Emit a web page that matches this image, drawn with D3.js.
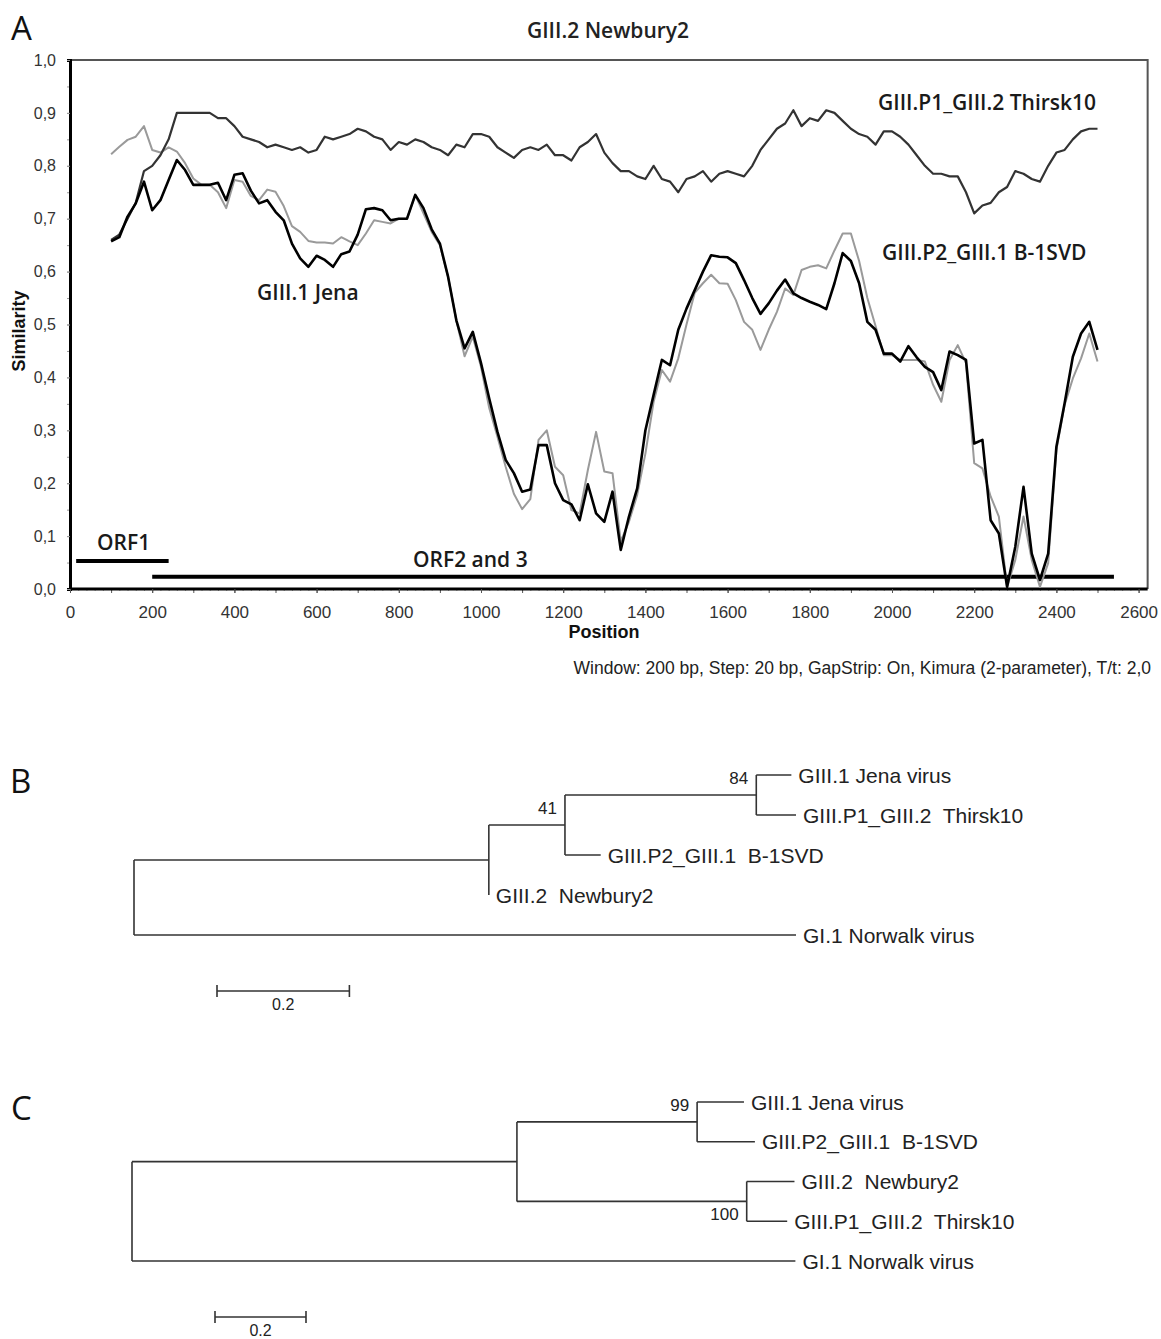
<!DOCTYPE html>
<html>
<head>
<meta charset="utf-8">
<script src="https://cdn.jsdelivr.net/npm/d3@7"></script>
<style>
  body { margin: 0; background: #fff; }
</style>
</head>
<body>
<div id="chart"></div>
<script>
// ---- Datos del panel A (Simplot, ventana 200 bp, paso 20 bp) ----
const positions = d3.range(100, 2501, 20); // centros de ventana, paso de 20 bp

const thirsk10 = [
  0.66, 0.67, 0.70, 0.73, 0.79, 0.80, 0.82, 0.85, 0.90, 0.90,
  0.90, 0.90, 0.90, 0.89, 0.89, 0.875, 0.855, 0.85, 0.845, 0.835,
  0.84, 0.835, 0.83, 0.835, 0.825, 0.83, 0.855, 0.85, 0.855, 0.86,
  0.87, 0.865, 0.855, 0.85, 0.83, 0.845, 0.84, 0.85, 0.845, 0.835,
  0.83, 0.82, 0.84, 0.835, 0.86, 0.86, 0.855, 0.835, 0.825, 0.815,
  0.83, 0.835, 0.83, 0.84, 0.82, 0.82, 0.81, 0.835, 0.845, 0.86,
  0.825, 0.805, 0.79, 0.79, 0.78, 0.775, 0.80, 0.775, 0.77, 0.75,
  0.775, 0.78, 0.79, 0.77, 0.785, 0.79, 0.785, 0.78, 0.80, 0.83,
  0.85, 0.87, 0.88, 0.905, 0.875, 0.89, 0.885, 0.905, 0.90, 0.885,
  0.87, 0.86, 0.855, 0.84, 0.865, 0.865, 0.855, 0.84, 0.82, 0.80,
  0.785, 0.785, 0.78, 0.78, 0.75, 0.71, 0.725, 0.73, 0.75, 0.76,
  0.79, 0.785, 0.775, 0.77, 0.80, 0.825, 0.83, 0.85, 0.865, 0.87,
  0.87
];

const jena = [
  0.657, 0.665, 0.704, 0.729, 0.77, 0.716, 0.735, 0.773, 0.811, 0.792,
  0.764, 0.764, 0.764, 0.768, 0.735, 0.783, 0.786, 0.753, 0.729, 0.735,
  0.713, 0.697, 0.653, 0.625, 0.609, 0.63, 0.622, 0.609, 0.633, 0.638,
  0.67, 0.718, 0.72, 0.716, 0.697, 0.70, 0.70, 0.745, 0.72, 0.68,
  0.653, 0.59, 0.508, 0.455, 0.486, 0.427, 0.36, 0.297, 0.244, 0.219,
  0.184, 0.188, 0.272, 0.272, 0.20, 0.168, 0.16, 0.13, 0.198, 0.143,
  0.127, 0.184, 0.074, 0.137, 0.19, 0.30, 0.367, 0.433, 0.423, 0.49,
  0.53, 0.565, 0.60, 0.631, 0.628, 0.627, 0.616, 0.584, 0.55, 0.52,
  0.54, 0.564, 0.585, 0.559, 0.55, 0.543, 0.537, 0.529, 0.578, 0.635,
  0.62, 0.578, 0.505, 0.49, 0.445, 0.445, 0.43, 0.459, 0.438, 0.42,
  0.41, 0.376, 0.449, 0.442, 0.433, 0.275, 0.282, 0.13, 0.105, 0.004,
  0.08, 0.193, 0.067, 0.017, 0.067, 0.269, 0.351, 0.439, 0.483, 0.505,
  0.452
];

const b1svd = [
  0.822, 0.836, 0.849, 0.855, 0.875, 0.83, 0.825, 0.835, 0.827, 0.805,
  0.776, 0.764, 0.764, 0.75, 0.72, 0.773, 0.77, 0.743, 0.735, 0.755,
  0.751, 0.724, 0.686, 0.675, 0.658, 0.655, 0.655, 0.653, 0.665, 0.657,
  0.65, 0.672, 0.697, 0.694, 0.691, 0.70, 0.70, 0.745, 0.71, 0.675,
  0.65, 0.59, 0.508, 0.44, 0.477, 0.42, 0.342, 0.288, 0.231, 0.18,
  0.151, 0.17, 0.282, 0.30, 0.231, 0.215, 0.149, 0.143, 0.225, 0.297,
  0.222, 0.219, 0.09, 0.127, 0.178, 0.256, 0.354, 0.414, 0.392, 0.436,
  0.50, 0.56, 0.578, 0.594, 0.578, 0.577, 0.546, 0.505, 0.49, 0.452,
  0.49, 0.524, 0.568, 0.556, 0.603, 0.609, 0.612, 0.606, 0.64, 0.672,
  0.672, 0.62, 0.55, 0.497, 0.442, 0.442, 0.433, 0.433, 0.433, 0.43,
  0.386, 0.354, 0.433, 0.461, 0.427, 0.238, 0.228, 0.175, 0.137, 0.004,
  0.055, 0.137, 0.055, 0.004, 0.049, 0.263, 0.348, 0.398, 0.436, 0.483,
  0.43
];

// Marcos de lectura (inicio, fin en bp; nivel en el eje de similitud)
const orfNames = ["ORF1", "ORF2 and 3"];
const orfStart = [15, 200];
const orfEnd = [240, 2540];
const orfLevel = [0.053, 0.023];

const yTicks = [0, 0.1, 0.2, 0.3, 0.4, 0.5, 0.6, 0.7, 0.8, 0.9, 1.0];
const xTicks = [0, 200, 400, 600, 800, 1000, 1200, 1400, 1600, 1800, 2000, 2200, 2400, 2600];

// ---- Datos de los árboles (longitudes de rama y soporte bootstrap) ----
const treeB = {
  children: [
    { len: 0.536, children: [
      { len: 0.115, support: 41, children: [
        { len: 0.289, support: 84, children: [
          { name: "GIII.1 Jena virus", len: 0.053 },
          { name: "GIII.P1_GIII.2  Thirsk10", len: 0.06 }
        ]},
        { name: "GIII.P2_GIII.1  B-1SVD", len: 0.054 }
      ]},
      { name: "GIII.2  Newbury2", len: 0 }
    ]},
    { name: "GI.1 Norwalk virus", len: 1.0 }
  ]
};

const treeC = {
  children: [
    { len: 0.846, children: [
      { len: 0.396, support: 99, children: [
        { name: "GIII.1 Jena virus", len: 0.103 },
        { name: "GIII.P2_GIII.1  B-1SVD", len: 0.127 }
      ]},
      { len: 0.505, support: 100, children: [
        { name: "GIII.2  Newbury2", len: 0.105 },
        { name: "GIII.P1_GIII.2  Thirsk10", len: 0.089 }
      ]}
    ]},
    { name: "GI.1 Norwalk virus", len: 1.458 }
  ]
};

const scaleBarValue = 0.2;

// ---- SVG ----
const width = 1161, height = 1339;
const labelFont = "'Open Sans', sans-serif";
const axisFont = "'Liberation Sans', Arial, sans-serif";

const svg = d3.select("#chart").append("svg")
  .attr("width", width)
  .attr("height", height);

svg.append("rect").attr("width", width).attr("height", height).attr("fill", "#fff");

// =================== Panel A ===================
const xMax = 2622;
const x = d3.scaleLinear().domain([0, xMax]).range([70, 70 + 0.411 * xMax]);
const y = d3.scaleLinear().domain([0, 1]).range([589, 60]);

const gA = svg.append("g");

gA.append("text").attr("x", 11).attr("y", 40)
  .attr("font-family", labelFont).attr("font-size", 33).attr("fill", "#111")
  .text("A");

gA.append("text").attr("x", 608).attr("y", 38).attr("text-anchor", "middle")
  .attr("font-family", labelFont).attr("font-size", 21).attr("font-weight", 600).attr("fill", "#222")
  .text("GIII.2 Newbury2");

// marco superior y derecho
gA.append("path")
  .attr("d", `M${x(0)},${y(1)}H${x(xMax)}V${y(0)}`)
  .attr("fill", "none").attr("stroke", "#555").attr("stroke-width", 2);

// ticks menores
gA.append("g").attr("transform", `translate(${x(0)},0)`)
  .call(d3.axisLeft(y).tickValues(d3.range(0, 1.001, 0.05)).tickSize(3).tickFormat(""))
  .call(g => g.select(".domain").remove())
  .selectAll("line").attr("stroke", "#999");

gA.append("g").attr("transform", `translate(0,${y(0)})`)
  .call(d3.axisBottom(x).tickValues(d3.range(0, 2601, 20)).tickSize(2).tickFormat(""))
  .call(g => g.select(".domain").remove())
  .selectAll("line").attr("stroke", "#aaa");

gA.append("g").attr("transform", `translate(0,${y(0)})`)
  .call(d3.axisBottom(x).tickValues(d3.range(0, 2601, 100)).tickSize(4).tickFormat(""))
  .call(g => g.select(".domain").remove())
  .selectAll("line").attr("stroke", "#555");

// eje Y
const yAxis = gA.append("g").attr("transform", `translate(${x(0)},0)`)
  .call(d3.axisLeft(y).tickValues(yTicks).tickSize(3).tickPadding(11)
    .tickFormat(d => d.toFixed(1).replace(".", ",")));
yAxis.select(".domain").attr("stroke", "#000").attr("stroke-width", 3);
yAxis.selectAll("line").attr("stroke", "#999");
yAxis.selectAll("text").attr("font-family", axisFont).attr("font-size", 16).attr("fill", "#333");

// eje X
const xAxis = gA.append("g").attr("transform", `translate(0,${y(0)})`)
  .call(d3.axisBottom(x).tickValues(xTicks).tickSize(4).tickPadding(13).tickFormat(d3.format("d")));
xAxis.select(".domain").attr("d", `M${x(0)},0H${x(xMax)}`).attr("stroke", "#000").attr("stroke-width", 3);
xAxis.selectAll("line").attr("stroke", "#555");
xAxis.selectAll("text").attr("font-family", axisFont).attr("font-size", 17).attr("fill", "#333");

gA.append("text")
  .attr("transform", `translate(25,331) rotate(-90)`)
  .attr("text-anchor", "middle")
  .attr("font-family", axisFont).attr("font-size", 18).attr("font-weight", "bold").attr("fill", "#111")
  .text("Similarity");

gA.append("text").attr("x", 604).attr("y", 638).attr("text-anchor", "middle")
  .attr("font-family", axisFont).attr("font-size", 18).attr("font-weight", "bold").attr("fill", "#111")
  .text("Position");

gA.append("text").attr("x", 1151).attr("y", 674).attr("text-anchor", "end")
  .attr("font-family", axisFont).attr("font-size", 17.5).attr("fill", "#222")
  .text("Window: 200 bp, Step: 20 bp, GapStrip: On, Kimura (2-parameter), T/t: 2,0");

// barras de ORF
gA.selectAll(".orf")
  .data(orfNames)
  .enter().append("line")
  .attr("class", "orf")
  .attr("x1", (d, i) => x(orfStart[i]))
  .attr("x2", (d, i) => x(orfEnd[i]))
  .attr("y1", (d, i) => y(orfLevel[i]))
  .attr("y2", (d, i) => y(orfLevel[i]))
  .attr("stroke", "#000").attr("stroke-width", 4);

// líneas de similitud
const line = d3.line()
  .x((d, i) => x(positions[i]))
  .y(d => y(d));

gA.append("path").datum(b1svd)
  .attr("d", line).attr("fill", "none")
  .attr("stroke", "#9a9a9a").attr("stroke-width", 2).attr("stroke-linejoin", "round");

gA.append("path").datum(thirsk10)
  .attr("d", line).attr("fill", "none")
  .attr("stroke", "#333").attr("stroke-width", 2.2).attr("stroke-linejoin", "round");

gA.append("path").datum(jena)
  .attr("d", line).attr("fill", "none")
  .attr("stroke", "#000").attr("stroke-width", 2.6).attr("stroke-linejoin", "round");

// etiquetas dentro del gráfico
const inLabels = [
  { t: "GIII.P1_GIII.2 Thirsk10", x: 878, y: 110 },
  { t: "GIII.P2_GIII.1 B-1SVD", x: 882, y: 260 },
  { t: "GIII.1 Jena", x: 257, y: 300 },
  { t: "ORF1", x: 97, y: 550 },
  { t: "ORF2 and 3", x: 413, y: 567 }
];
gA.selectAll(".inlabel")
  .data(inLabels)
  .enter().append("text")
  .attr("class", "inlabel")
  .attr("x", d => d.x).attr("y", d => d.y)
  .attr("font-family", labelFont).attr("font-size", 21).attr("font-weight", 600).attr("fill", "#1a1a1a")
  .text(d => d.t);

// =================== Árboles B y C ===================
function drawTree(tree, opt) {
  const g = svg.append("g");
  const root = d3.hierarchy(tree);
  root.each(n => { n.dist = n.parent ? n.parent.dist + n.data.len : 0; });

  const xs = d3.scaleLinear().domain([0, 1]).range([opt.x0, opt.x0 + opt.unit]);
  const leaves = root.leaves();
  const ys = d3.scaleLinear().domain([0, leaves.length - 1]).range([opt.yTop, opt.yBottom]);
  leaves.forEach((l, i) => { l.py = ys(i); });
  root.eachAfter(n => {
    if (n.children) n.py = (n.children[0].py + n.children[n.children.length - 1].py) / 2;
  });

  const stroke = "#333";
  // ramas horizontales
  g.selectAll(".h").data(root.descendants().filter(n => n.parent))
    .enter().append("line")
    .attr("x1", n => xs(n.parent.dist)).attr("x2", n => xs(n.dist))
    .attr("y1", n => n.py).attr("y2", n => n.py)
    .attr("stroke", stroke).attr("stroke-width", 1.6);
  // uniones verticales
  g.selectAll(".v").data(root.descendants().filter(n => n.children))
    .enter().append("line")
    .attr("x1", n => xs(n.dist)).attr("x2", n => xs(n.dist))
    .attr("y1", n => n.children[0].py).attr("y2", n => n.children[n.children.length - 1].py)
    .attr("stroke", stroke).attr("stroke-width", 1.6);

  g.selectAll(".leaf").data(leaves)
    .enter().append("text")
    .attr("x", n => xs(n.dist) + 7).attr("y", n => n.py).attr("dy", "0.36em")
    .attr("font-family", axisFont).attr("font-size", 21).attr("fill", "#222")
    .style("white-space", "pre")
    .text(n => n.data.name);

  g.selectAll(".boot").data(root.descendants().filter(n => n.data.support != null))
    .enter().append("text")
    .attr("x", n => xs(n.dist) - 8)
    .attr("y", n => opt.below.includes(n.data.support) ? n.py + 19 : n.py - 11)
    .attr("text-anchor", "end")
    .attr("font-family", axisFont).attr("font-size", 17).attr("fill", "#222")
    .text(n => n.data.support);

  // barra de escala
  const sb = g.append("g").attr("stroke", stroke).attr("stroke-width", 1.6);
  const sx0 = opt.barX, sx1 = opt.barX + (xs(scaleBarValue) - xs(0));
  sb.append("line").attr("x1", sx0).attr("x2", sx1).attr("y1", opt.barY).attr("y2", opt.barY);
  sb.append("line").attr("x1", sx0).attr("x2", sx0).attr("y1", opt.barY - 6).attr("y2", opt.barY + 6);
  sb.append("line").attr("x1", sx1).attr("x2", sx1).attr("y1", opt.barY - 6).attr("y2", opt.barY + 6);
  g.append("text").attr("x", (sx0 + sx1) / 2).attr("y", opt.barY + 19).attr("text-anchor", "middle")
    .attr("font-family", axisFont).attr("font-size", 16).attr("fill", "#222")
    .text(scaleBarValue);

  g.append("text").attr("x", opt.letterX).attr("y", opt.letterY)
    .attr("font-family", labelFont).attr("font-size", 33).attr("fill", "#111")
    .text(opt.letter);
}

drawTree(treeB, {
  x0: 134, unit: 662, yTop: 775, yBottom: 935,
  barX: 217, barY: 991, below: [], letter: "B", letterX: 10, letterY: 793
});

drawTree(treeC, {
  x0: 132, unit: 455, yTop: 1102, yBottom: 1261,
  barX: 215, barY: 1317, below: [100], letter: "C", letterX: 11, letterY: 1120
});
</script>
</body>
</html>
